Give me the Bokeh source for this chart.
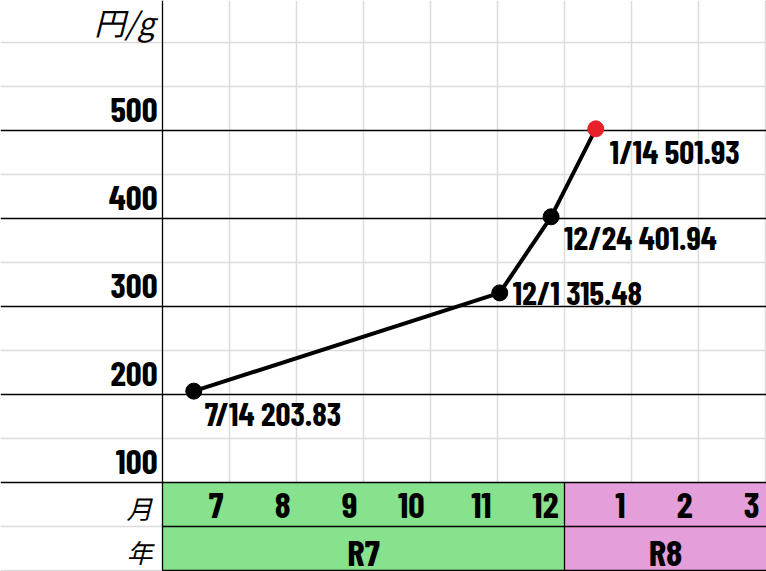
from bokeh.plotting import figure
from bokeh.models import Range1d, ColumnDataSource
from bokeh.core.properties import value
from bokeh.embed import file_html
from bokeh.resources import INLINE

# ---- data ----
dates = ["7/14", "12/1", "12/24", "1/14"]
prices = [203.83, 315.48, 401.94, 501.93]
months = [7, 8, 9, 10, 11, 12, 1, 2, 3]
years = ["R7", "R8"]
year_months = [6, 3]           # number of month columns per year
y_ticks = [100, 200, 300, 400, 500]
unit_label = "円/g"
row_labels = ["月", "年"]

# ---- styles ----
NUM_FONT = value("Barlow Condensed")
JP_FONT = value("Noto Sans CJK JP")
GRAY = "#dcdcdc"
GREEN = "#86e28c"
PINK = "#e49eda"
point_colors = ["black", "black", "black", "#e8202a"]
label_dx = [11, 13, 13, 14]     # pixel offsets of the value labels
label_dy = [22, -1, 20, 22]

# x is measured in month columns (0 = start of July), y in 円/g
COL_PX = 67.0
X0 = -162 / COL_PX
X1 = 604 / COL_PX
Y_PX = 0.88
Y0 = -1 / Y_PX
Y1 = Y0 + 571 / Y_PX

p = figure(width=766, height=571, output_backend="svg", toolbar_location=None,
           x_range=Range1d(X0, X1), y_range=Range1d(Y0, Y1),
           x_axis_type=None, y_axis_type=None, min_border=0)
p.grid.visible = False
p.outline_line_color = None
p.background_fill_color = "white"

# month / year band
n7 = year_months[0]
ncols = len(months)
p.quad(left=[0, n7], right=[n7, X1], bottom=[0, 0], top=[100, 100],
       fill_color=[GREEN, PINK], line_color=None)

# light spreadsheet grid
for yv in [150, 250, 350, 450, 550, 600]:
    p.segment(X0, yv, X1, yv, line_color=GRAY, line_width=1.5)
for yv in [0, 50]:
    p.segment(X0, yv, 0, yv, line_color=GRAY, line_width=1.5)
for c in range(1, ncols + 1):
    p.segment(c, 100, c, Y1, line_color=GRAY, line_width=1.5)

# dark rules
for yv in y_ticks:
    p.segment(X0, yv, X1, yv, line_color="black", line_width=1.3)
for yv in [0, 50]:
    p.segment(0, yv, X1, yv, line_color="black", line_width=1.3)
p.segment(0, 0, 0, Y1, line_color="black", line_width=1.3)
p.segment(n7, 0, n7, 100, line_color="black", line_width=1.3)

# position of each date inside its month column
xs = []
for d in dates:
    m, day = (int(t) for t in d.split("/"))
    xs.append(months.index(m) + day / 30)

src = ColumnDataSource(dict(
    x=xs, y=prices, color=point_colors,
    label=[f"{d} {v:.2f}" for d, v in zip(dates, prices)],
    dx=label_dx, dy=label_dy))

p.line("x", "y", source=src, line_color="black", line_width=4)
p.scatter("x", "y", source=src, size=16, fill_color="color", line_color="color")
p.text("x", "y", text="label", source=src, x_offset="dx", y_offset="dy",
       text_font=NUM_FONT, text_font_style="bold", text_font_size="33px",
       text_color="black", text_align="left", text_baseline="alphabetic")

# value labels of the left column
p.text(x=[0] * len(y_ticks), y=y_ticks, text=[str(v) for v in y_ticks],
       x_offset=-5, y_offset=-21, text_font=NUM_FONT, text_font_style="bold",
       text_font_size="35px", text_align="right", text_baseline="alphabetic")

# month numbers, right aligned in their cells
p.text(x=[i + 1 for i in range(ncols)], y=[50] * ncols,
       text=[str(m) for m in months], x_offset=-6, y_offset=-21,
       text_font=NUM_FONT, text_font_style="bold", text_font_size="36px",
       text_align="right", text_baseline="alphabetic")

# year names, centred in their spans
yc = [n7 / 2, (n7 + X1) / 2]
p.text(x=yc, y=[0, 0], text=years, y_offset=-20,
       text_font=NUM_FONT, text_font_style="bold", text_font_size="37px",
       text_align="center", text_baseline="alphabetic")

# header texts of the left column
p.text(x=[0], y=[600], text=[unit_label], x_offset=-8, y_offset=-21,
       text_font=JP_FONT, text_font_style="italic", text_font_size="31px",
       text_align="right", text_baseline="alphabetic")
p.text(x=[0, 0], y=[50, 0], text=row_labels, x_offset=-10, y_offset=-19,
       text_font=JP_FONT, text_font_style="italic", text_font_size="26px",
       text_align="right", text_baseline="alphabetic")

open("out.html", "w").write(file_html(p, INLINE))
